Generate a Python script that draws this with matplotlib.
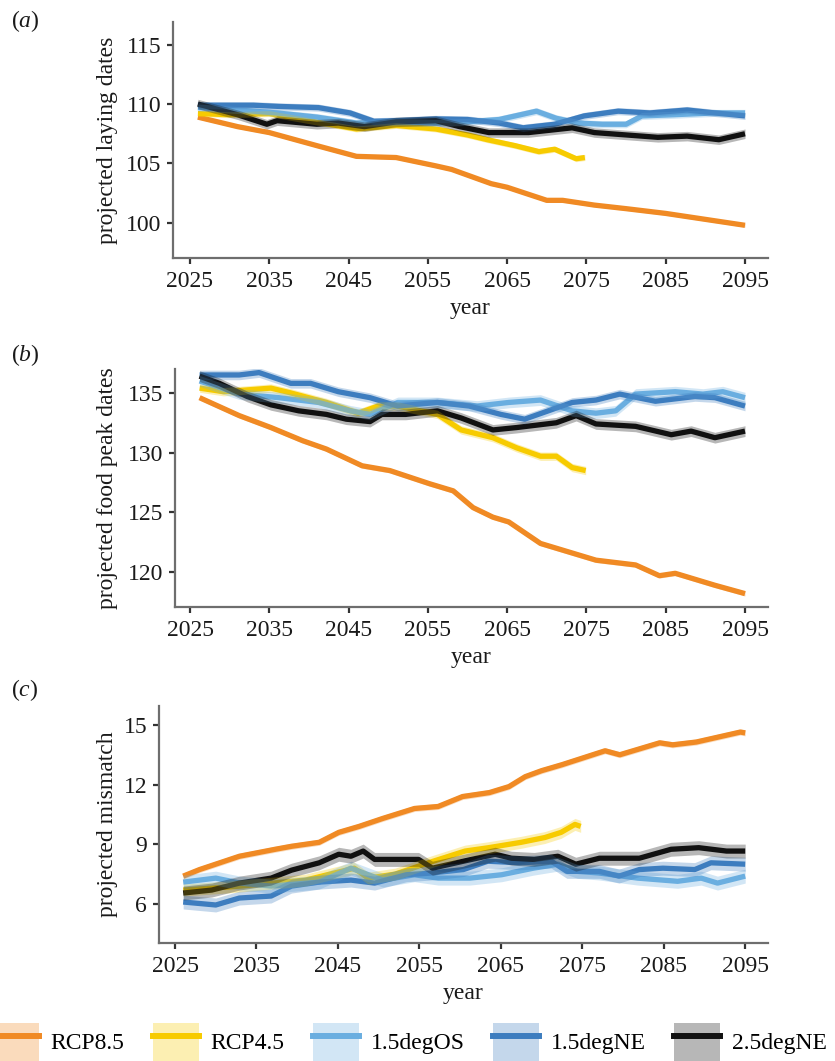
import numpy as np
import matplotlib.pyplot as plt
from matplotlib.patches import Patch
from matplotlib.lines import Line2D

plt.rcParams['font.family'] = ['Liberation Serif', 'DejaVu Serif']
plt.rcParams['mathtext.fontset'] = 'custom'
plt.rcParams['mathtext.it'] = 'Liberation Serif:italic'
plt.rcParams['mathtext.rm'] = 'Liberation Serif'

scenarios = ['RCP8.5', 'RCP4.5', '1.5degOS', '1.5degNE', '2.5degNE']
colours = ['#f08a24', '#f7cb00', '#6aaee0', '#3d7dbf', '#111111']

# (a) projected laying dates
lay_rcp85_yr = [2026, 2031, 2035, 2041, 2046, 2051, 2056, 2058, 2063, 2065, 2070, 2072, 2076, 2080, 2085, 2089, 2095]
lay_rcp85 = [108.9, 108.1, 107.6, 106.5, 105.6, 105.5, 104.8, 104.5, 103.3, 103.0, 101.9, 101.9, 101.5, 101.2, 100.8, 100.4, 99.8]
lay_rcp45_yr = [2026, 2030, 2035, 2040, 2046, 2051, 2056, 2060, 2062.5, 2066, 2069, 2071, 2073.7, 2074.8]
lay_rcp45 = [109.2, 109.1, 109.2, 108.6, 107.9, 108.2, 107.9, 107.4, 107.0, 106.5, 106.0, 106.2, 105.4, 105.5]
lay_os_yr = [2026, 2031, 2036, 2041, 2046, 2051, 2056, 2060, 2064, 2068.7, 2071.2, 2074, 2077, 2080, 2082, 2086, 2091, 2095]
lay_os = [109.7, 109.5, 109.25, 108.9, 108.4, 108.5, 108.4, 108.5, 108.7, 109.4, 108.8, 108.4, 108.3, 108.3, 109.0, 109.1, 109.25, 109.25]
lay_ne_yr = [2026, 2033, 2036.2, 2041.2, 2045.2, 2048.2, 2051, 2056, 2060, 2064, 2067, 2071, 2074.7, 2079, 2083, 2087.7, 2091.2, 2095]
lay_ne = [109.9, 109.9, 109.8, 109.7, 109.25, 108.55, 108.6, 108.75, 108.7, 108.4, 108.0, 108.3, 109.0, 109.4, 109.25, 109.5, 109.25, 109.0]
lay_25_yr = [2026, 2031, 2034.7, 2036, 2041, 2043.7, 2047, 2051, 2056, 2059, 2062.7, 2067.7, 2073.2, 2076, 2080, 2084, 2087.7, 2091.7, 2095]
lay_25 = [110.0, 109.1, 108.3, 108.6, 108.3, 108.4, 108.1, 108.5, 108.6, 108.1, 107.6, 107.6, 108.0, 107.6, 107.4, 107.2, 107.3, 107.0, 107.5]

# (b) projected food peak dates
food_rcp85_yr = [2026.2, 2031.2, 2035.2, 2039.2, 2042.2, 2046.7, 2050.2, 2055.2, 2058.2, 2060.7, 2063.2, 2065.2, 2069.2, 2073.7, 2076.2, 2081.2, 2084.2, 2086.2, 2091.2, 2095]
food_rcp85 = [134.6, 133.1, 132.1, 131.0, 130.3, 128.9, 128.5, 127.4, 126.8, 125.4, 124.6, 124.2, 122.4, 121.5, 121.0, 120.6, 119.7, 119.9, 118.9, 118.2]
food_rcp45_yr = [2026.2, 2029.2, 2035.2, 2037.7, 2042.2, 2046.2, 2048.7, 2051.2, 2056.2, 2059.2, 2063.2, 2066.2, 2069.2, 2071.2, 2073.2, 2074.9]
food_rcp45 = [135.4, 135.1, 135.4, 135.0, 134.2, 133.3, 133.9, 133.9, 133.2, 131.9, 131.25, 130.4, 129.7, 129.7, 128.75, 128.5]
food_os_yr = [2026.2, 2031.2, 2036.2, 2041.2, 2045.2, 2047.7, 2051.2, 2056.2, 2061.2, 2065.2, 2069.2, 2073.2, 2076.2, 2078.7, 2081.2, 2086.2, 2089.7, 2092.2, 2095]
food_os = [136.0, 134.9, 134.6, 134.2, 133.5, 133.2, 134.2, 134.2, 133.9, 134.2, 134.4, 133.5, 133.3, 133.5, 134.9, 135.1, 134.9, 135.1, 134.6]
food_ne_yr = [2026.2, 2031.2, 2033.7, 2037.7, 2040.2, 2043.7, 2047.7, 2051.2, 2056.2, 2060.2, 2064.2, 2067.2, 2073.2, 2076.2, 2079.2, 2083.7, 2088.7, 2091.2, 2095]
food_ne = [136.5, 136.5, 136.7, 135.8, 135.8, 135.1, 134.6, 133.9, 134.2, 133.9, 133.2, 132.8, 134.2, 134.4, 134.9, 134.3, 134.7, 134.6, 133.9]
food_25_yr = [2026.2, 2028.7, 2032.2, 2035.2, 2038.7, 2042.2, 2044.7, 2047.7, 2049.2, 2052.2, 2056.2, 2059.2, 2063.2, 2066.2, 2071.2, 2073.7, 2076.2, 2081.2, 2085.7, 2088.2, 2091.2, 2095]
food_25 = [136.4, 135.8, 134.7, 134.0, 133.5, 133.2, 132.8, 132.6, 133.2, 133.2, 133.5, 132.9, 131.9, 132.1, 132.5, 133.1, 132.4, 132.2, 131.5, 131.8, 131.25, 131.8]

# (c) projected mismatch
mis_rcp85_yr = [2026, 2028, 2032.9, 2037.3, 2039.3, 2042.7, 2045.1, 2047.6, 2050.5, 2054.4, 2057.3, 2060.3, 2063.6, 2066, 2068, 2070, 2072.5, 2077.8, 2079.6, 2084.5, 2086.1, 2089, 2094.4, 2095]
mis_rcp85 = [7.4, 7.73, 8.4, 8.75, 8.9, 9.1, 9.6, 9.9, 10.3, 10.8, 10.9, 11.4, 11.6, 11.9, 12.4, 12.7, 13.0, 13.7, 13.5, 14.1, 14.0, 14.14, 14.64, 14.6]
mis_rcp45_yr = [2026, 2033, 2041, 2047, 2048.7, 2052, 2056.7, 2060.6, 2063.5, 2067.5, 2070.4, 2072.4, 2074.1, 2074.8]
mis_rcp45 = [6.7, 6.9, 7.2, 7.8, 7.3, 7.5, 8.15, 8.66, 8.83, 9.1, 9.34, 9.6, 10.0, 9.9]
mis_os_yr = [2026, 2030, 2033, 2036.8, 2042.7, 2046.6, 2050.5, 2054.4, 2057.3, 2061.2, 2065.1, 2069, 2072, 2074.4, 2077, 2081.8, 2086.7, 2089.6, 2091.6, 2095]
mis_os = [7.1, 7.3, 7.05, 6.9, 7.1, 7.8, 7.2, 7.47, 7.3, 7.3, 7.47, 7.8, 8.0, 7.64, 7.56, 7.3, 7.14, 7.3, 7.05, 7.4]
mis_ne_yr = [2026, 2030, 2032.9, 2036.8, 2039.3, 2042.7, 2046.6, 2049.5, 2053.4, 2056.6, 2060.4, 2063.4, 2067.3, 2071.2, 2073.1, 2077.1, 2079.5, 2082, 2084.9, 2088.8, 2090.8, 2095]
mis_ne = [6.1, 5.95, 6.3, 6.4, 6.9, 7.1, 7.2, 7.05, 7.47, 7.56, 7.73, 8.15, 8.07, 8.15, 7.64, 7.64, 7.4, 7.73, 7.8, 7.73, 8.07, 8.0]
mis_25_yr = [2026, 2029.5, 2032.9, 2036.8, 2039.3, 2042.7, 2045.1, 2046.6, 2048.1, 2049.5, 2052.4, 2054.9, 2056.6, 2060.4, 2064.3, 2066.3, 2069.1, 2072, 2074.2, 2077.1, 2082, 2085.9, 2089.3, 2092.7, 2095]
mis_25 = [6.55, 6.7, 7.05, 7.3, 7.7, 8.07, 8.5, 8.4, 8.66, 8.24, 8.24, 8.24, 7.8, 8.15, 8.5, 8.3, 8.24, 8.4, 8.0, 8.3, 8.3, 8.75, 8.83, 8.66, 8.66]

# half-width of the uncertainty ribbon for each scenario
lay_spread = [0.15, 0.25, 0.3, 0.3, 0.4]
food_spread = [0.2, 0.35, 0.45, 0.4, 0.45]
mis_spread = [0.15, 0.3, 0.35, 0.35, 0.35]

panels = [
    ('a', 'projected laying dates',
     [(lay_rcp85_yr, lay_rcp85), (lay_rcp45_yr, lay_rcp45), (lay_os_yr, lay_os), (lay_ne_yr, lay_ne), (lay_25_yr, lay_25)],
     lay_spread, [100, 105, 110, 115], (97.05, 116.9), (2022.86, 2097.9),
     [173, 22, 768, 258], 27),
    ('b', 'projected food peak dates',
     [(food_rcp85_yr, food_rcp85), (food_rcp45_yr, food_rcp45), (food_os_yr, food_os), (food_ne_yr, food_ne), (food_25_yr, food_25)],
     food_spread, [120, 125, 130, 135], (117.08, 137.0), (2023.1, 2097.9),
     [175, 369, 768, 607], 361),
    ('c', 'projected mismatch',
     [(mis_rcp85_yr, mis_rcp85), (mis_rcp45_yr, mis_rcp45), (mis_os_yr, mis_os), (mis_ne_yr, mis_ne), (mis_25_yr, mis_25)],
     mis_spread, [6, 9, 12, 15], (4.04, 15.95), (2023.03, 2097.8),
     [159, 706, 768, 943], 696),
]

W, H = 835, 1061
FS = 17
ink = '#1a1a1a'
fig = plt.figure(figsize=(W / 100, H / 100), dpi=100)

for letter, ylab, series, spread, yticks, ylim, xlim, box, tag_y in panels:
    l, t, r, b = box
    ax = fig.add_axes([l / W, 1 - b / H, (r - l) / W, (b - t) / H])
    # lines first, ribbons on top like ggplot layers
    for (yr, val), c in zip(series, colours):
        ax.plot(yr, val, color=c, lw=3.8, solid_capstyle='butt', zorder=2)
    for (yr, val), c, s in zip(series, colours, spread):
        val = np.array(val)
        ax.fill_between(yr, val - s, val + s, color=c, alpha=0.3, lw=0, zorder=3)

    ax.set_xlim(*xlim)
    ax.set_ylim(*ylim)
    ax.set_xticks(range(2025, 2096, 10))
    ax.set_yticks(yticks)
    for side in ['top', 'right']:
        ax.spines[side].set_visible(False)
    for side in ['left', 'bottom']:
        ax.spines[side].set_color('#6e6e6e')
        ax.spines[side].set_linewidth(1.6)
    ax.tick_params(direction='out', length=4.5, width=1.6, color='#333333',
                   labelsize=FS, labelcolor=ink)
    ax.tick_params(axis='x', pad=5)
    ax.tick_params(axis='y', pad=4)

    fig.text(107 / W, 1 - ((t + b) / 2) / H, ylab, rotation=90, ha='center', va='center',
             fontsize=FS, color=ink)
    fig.text(((l + r) / 2) / W, 1 - (b + 56) / H, 'year', ha='center', va='baseline',
             fontsize=FS, color=ink)
    fig.text(11 / W, 1 - tag_y / H, '($\\mathit{' + letter + '}$)', ha='left', va='baseline',
             fontsize=FS, color=ink)

handles = [(Patch(facecolor=c, alpha=0.3, lw=0), Line2D([], [], color=c, lw=4.3)) for c in colours]
fig.legend(handles, scenarios, loc='center', bbox_to_anchor=(410 / W, 19 / H), ncol=5,
           frameon=False, fontsize=FS, handlelength=1.95, handleheight=2.05,
           handletextpad=0.5, columnspacing=1.2, borderpad=0, borderaxespad=0)

fig.savefig('out.png', dpi=100)
